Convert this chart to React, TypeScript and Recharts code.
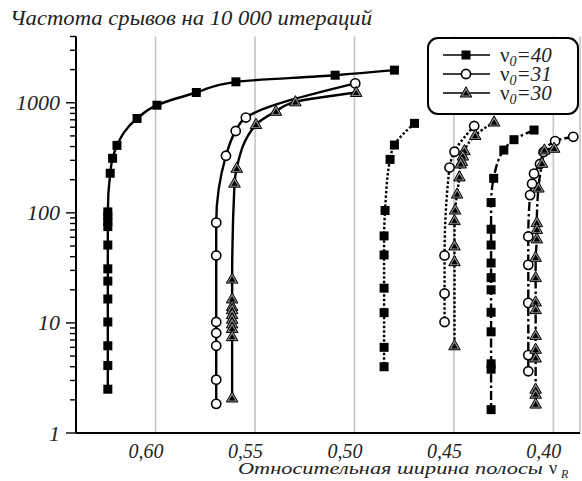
import React from 'react';
import { LineChart, Line, XAxis, YAxis, CartesianGrid, Legend, Customized } from 'recharts';

const FONT = '"Liberation Serif", Tinos, "Times New Roman", serif';
const italic: React.CSSProperties = { fontFamily: FONT, fontStyle: 'italic' };
const upright: React.CSSProperties = { fontFamily: FONT, fontStyle: 'normal' };

// x tick values (relative band width) and y ticks (log scale)
const xTicks = [0.6, 0.55, 0.5, 0.45, 0.4];
const yMajor = [1, 10, 100, 1000];
const yTicks = [1, 2, 3, 4, 5, 6, 7, 8, 9, 10, 20, 30, 40, 50, 60, 70, 80, 90, 100, 200, 300, 400, 500, 600, 700, 800, 900, 1000, 2000, 3000, 4000];

const legendNames = ['40', '31', '30'];

// Solid group
const solidSquares: [number, number][] = [
  [0.4799, 1980], [0.5097, 1780], [0.5596, 1550], [0.5795, 1240], [0.5993, 950], [0.6093, 720],
  [0.6194, 410], [0.6216, 313], [0.6228, 229], [0.624, 102], [0.624, 92], [0.624, 83], [0.624, 75],
  [0.624, 51], [0.624, 31], [0.624, 24], [0.624, 16.5], [0.624, 10.2], [0.624, 6.2], [0.624, 4.1], [0.624, 2.5],
];
const solidCircles: [number, number][] = [
  [0.4996, 1500], [0.5546, 734], [0.5597, 554], [0.5646, 330], [0.5695, 81.5], [0.5695, 41],
  [0.5695, 10.2], [0.5695, 8.1], [0.5695, 6.2], [0.5695, 3.05], [0.5695, 1.84],
];
const solidTriangles: [number, number][] = [
  [0.4991, 1240], [0.5297, 1020], [0.5395, 836], [0.5495, 634], [0.5592, 254], [0.5603, 186],
  [0.5615, 25], [0.5615, 16.5], [0.5615, 14.1], [0.5615, 13.2], [0.5615, 11.9], [0.5615, 10.8],
  [0.5615, 9.8], [0.5615, 8.9], [0.5615, 7.5], [0.5615, 2.08],
];

// Dotted group
const dottedSquares: [number, number][] = [
  [0.4698, 650], [0.4799, 413], [0.4821, 306], [0.4846, 105], [0.4851, 61.7], [0.4851, 41.5],
  [0.4851, 20.7], [0.4851, 12.4], [0.4851, 6.0], [0.4851, 4.0],
];
const dottedCircles: [number, number][] = [
  [0.4398, 615], [0.4497, 359], [0.4522, 258], [0.4547, 41], [0.4547, 18.5], [0.4547, 10.2],
];
const dottedTriangles: [number, number][] = [
  [0.4298, 668], [0.4393, 504], [0.4447, 367], [0.4455, 328], [0.446, 293], [0.4466, 278],
  [0.4472, 212], [0.4484, 148], [0.4494, 106], [0.4497, 85], [0.4497, 50], [0.4497, 36], [0.4497, 6.2],
];

// Dash-dot group
const dashDotSquares: [number, number][] = [
  [0.4097, 565], [0.4198, 462], [0.4249, 372], [0.43, 206], [0.4313, 124], [0.4313, 71],
  [0.4313, 51], [0.4313, 35], [0.4313, 25.8], [0.4313, 20], [0.4313, 12.5], [0.4313, 8.3],
  [0.4313, 4.25], [0.4313, 3.8], [0.4313, 1.63],
];
const dashDotCircles: [number, number][] = [
  [0.39, 491], [0.3991, 449], [0.4049, 357], [0.4067, 278], [0.4097, 227], [0.4107, 184],
  [0.4117, 145], [0.4126, 61], [0.4126, 33.7], [0.4126, 15.2], [0.4126, 5.1], [0.4126, 3.64],
];
const dashDotTriangles: [number, number][] = [
  [0.3996, 386], [0.4045, 372], [0.4057, 282], [0.4075, 168], [0.4083, 81.5], [0.4083, 70.7],
  [0.4083, 58], [0.4089, 39.4], [0.4089, 25.8], [0.4089, 15.5], [0.4089, 13.2], [0.4089, 7.7],
  [0.4089, 5.76], [0.4089, 4.8], [0.4089, 2.5], [0.4089, 2.25], [0.4089, 1.83],
];

type Shape = 'square' | 'circle' | 'triangle';
const SOLID = undefined;
const DOTTED = '2.5 2';
const DASHDOT = '9 3 2.5 3';

const seriesList: { id: string; data: [number, number][]; shape: Shape; dash?: string }[] = [
  { id: 's1', data: solidSquares, shape: 'square', dash: SOLID },
  { id: 'c1', data: solidCircles, shape: 'circle', dash: SOLID },
  { id: 't1', data: solidTriangles, shape: 'triangle', dash: SOLID },
  { id: 's2', data: dottedSquares, shape: 'square', dash: DOTTED },
  { id: 'c2', data: dottedCircles, shape: 'circle', dash: DOTTED },
  { id: 't2', data: dottedTriangles, shape: 'triangle', dash: DOTTED },
  { id: 's3', data: dashDotSquares, shape: 'square', dash: DASHDOT },
  { id: 'c3', data: dashDotCircles, shape: 'circle', dash: DASHDOT },
  { id: 't3', data: dashDotTriangles, shape: 'triangle', dash: DASHDOT },
];

const Marker = ({ shape, cx, cy }: { shape: Shape; cx: number; cy: number }) => {
  if (shape === 'square') {
    return <rect x={cx - 4.5} y={cy - 4.5} width={9} height={9} fill="#000" />;
  }
  if (shape === 'circle') {
    return <circle cx={cx} cy={cy} r={4.6} fill="#fff" stroke="#000" strokeWidth={1.6} />;
  }
  return (
    <g>
      <polygon
        points={`${cx},${cy - 6.2} ${cx - 5.8},${cy + 4} ${cx + 5.8},${cy + 4}`}
        fill="#8a8a8a"
        stroke="#000"
        strokeWidth={1}
      />
      <polygon points={`${cx},${cy - 2.8} ${cx - 3.2},${cy + 2.6} ${cx + 3.2},${cy + 2.6}`} fill="#000" />
    </g>
  );
};

const makeDot = (shape: Shape) => (p: any) => {
  const { cx, cy, index } = p;
  if (cx == null || cy == null || isNaN(cx) || isNaN(cy)) return <g key={`d-${index}`} />;
  return (
    <g key={`d-${index}`}>
      <Marker shape={shape} cx={cx} cy={cy} />
    </g>
  );
};

const YTick = (props: any) => {
  const { x, y, payload } = props;
  const v = payload.value;
  const major = yMajor.includes(v);
  return (
    <g>
      <line x1={x} x2={x - (major ? 10 : 6)} y1={y} y2={y} stroke="#000" strokeWidth={1.4} />
      {major && (
        <text x={x - 16} y={y + 7.5} textAnchor="end" style={{ ...italic, fontSize: 22 }} fill="#222">
          {String(v)}
        </text>
      )}
    </g>
  );
};

const XTick = (props: any) => {
  const { x, y, payload } = props;
  const label = payload.value.toFixed(2).replace('.', ',');
  return (
    <text x={x + 8} y={y + 25} textAnchor="end" style={{ ...italic, fontSize: 20 }} fill="#222">
      {label}
    </text>
  );
};

const LegendBox = () => (
  <svg width={152} height={78} style={{ display: 'block' }}>
    <rect x={1} y={1} width={150} height={76} rx={10} ry={10} fill="#fff" stroke="#000" strokeWidth={2} />
    {legendNames.map((name, i) => {
      const y = 18 + i * 19;
      const shape: Shape = i === 0 ? 'square' : i === 1 ? 'circle' : 'triangle';
      return (
        <g key={name}>
          <line x1={16} x2={63} y1={y} y2={y} stroke="#000" strokeWidth={1.6} />
          <Marker shape={shape} cx={39} cy={y} />
          <text x={73} y={y + 7} style={{ ...upright, fontSize: 21 }} fill="#222">
            <tspan>ν</tspan>
            <tspan style={{ fontStyle: 'italic', fontSize: 14 }} dy={4}>0</tspan>
            <tspan style={{ fontStyle: 'italic' }} dy={-4}>={name}</tspan>
          </text>
        </g>
      );
    })}
  </svg>
);

const Texts = () => (
  <g>
    <text x={10} y={25} style={{ ...italic, fontSize: 20 }} fill="#222" textLength={362} lengthAdjust="spacingAndGlyphs">
      Частота срывов на 10 000 итераций
    </text>
    <text x={238} y={474} style={{ ...italic, fontSize: 17 }} fill="#222" textLength={305} lengthAdjust="spacingAndGlyphs">
      Относительная ширина полосы
    </text>
    <text x={549} y={474} style={{ ...upright, fontSize: 18 }} fill="#222">ν</text>
    <text x={561} y={478} style={{ ...italic, fontSize: 12 }} fill="#222">R</text>
  </g>
);

export default function App() {
  return (
    <div style={{ position: 'absolute', left: 0, top: 0, width: 582, height: 481, background: '#fff' }}>
      <LineChart width={582} height={481} margin={{ top: 36.5, right: 2, bottom: 0, left: 0 }}>
        <CartesianGrid horizontal={false} vertical={true} stroke="#c4c4c4" strokeWidth={1.6} />
        <XAxis
          dataKey="x"
          type="number"
          domain={[0.3866, 0.64]}
          reversed
          allowDataOverflow
          ticks={xTicks}
          interval={0}
          tickLine={false}
          tickSize={0}
          tickMargin={0}
          height={48}
          axisLine={{ stroke: '#000', strokeWidth: 2 }}
          tick={<XTick />}
        />
        <YAxis
          dataKey="y"
          type="number"
          scale="log"
          domain={[1, 4000]}
          allowDataOverflow
          ticks={yTicks}
          interval={0}
          tickLine={false}
          tickSize={0}
          tickMargin={0}
          width={76}
          axisLine={{ stroke: '#000', strokeWidth: 2 }}
          tick={<YTick />}
        />
        {seriesList.map((s) => (
          <Line
            key={s.id}
            data={s.data.map(([x, y]) => ({ x, y }))}
            dataKey="y"
            type="monotoneY"
            stroke="#000"
            strokeWidth={2.4}
            strokeDasharray={s.dash}
            dot={makeDot(s.shape)}
            activeDot={false}
            isAnimationActive={false}
            legendType="none"
          />
        ))}
        <Legend
          content={() => <LegendBox />}
          layout="vertical"
          align="center"
          verticalAlign="middle"
          wrapperStyle={{ position: 'absolute', left: 427, top: 37, width: 152, height: 78 }}
        />
        <Customized component={Texts} />
      </LineChart>
    </div>
  );
}
